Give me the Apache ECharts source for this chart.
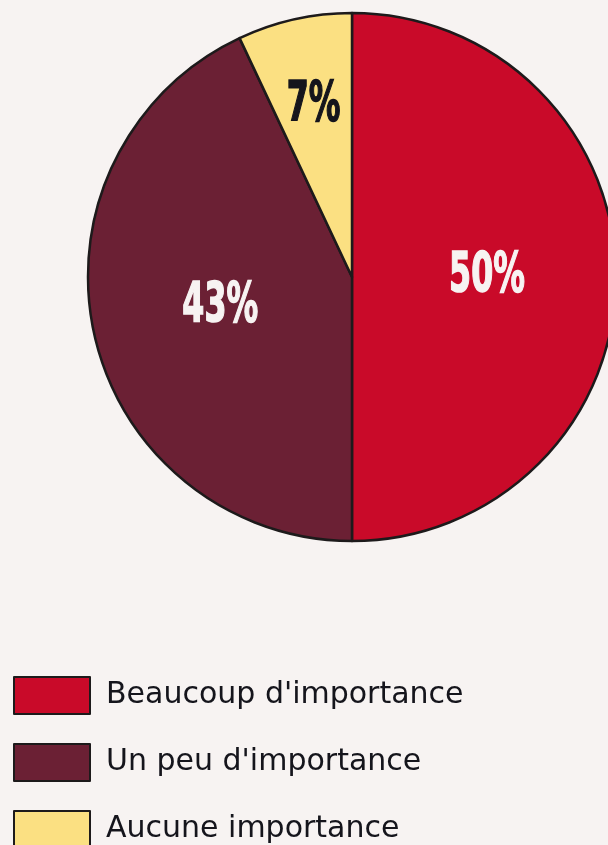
<!DOCTYPE html>
<html>
<head>
<meta charset="utf-8">
<script src="https://cdn.jsdelivr.net/npm/echarts@6/dist/echarts.min.js"></script>
<style>
  html, body { margin: 0; padding: 0; background: #f7f3f2; }
  #chart { width: 608px; height: 845px; }
</style>
</head>
<body>
<div id="chart"></div>
<script>
var categories = ["Beaucoup d'importance", "Un peu d'importance", "Aucune importance"];
var values = [50, 43, 7];
var colors = ["#c90a29", "#6b2034", "#fbe082"];
var labelColors = ["#f7f3f2", "#f7f3f2", "#15151c"];

var chart = echarts.init(document.getElementById('chart'));

var labelFont = {
  fontFamily: '"DejaVu Sans Condensed", "DejaVu Sans", sans-serif',
  fontWeight: 'bold',
  fontSize: 55,
  padding: [6, 0, 0, 0],
  textBorderWidth: 1.5
};

// main slices, labels inside for the two big ones
var mainData = categories.map(function (c, i) {
  return {
    name: c,
    value: values[i],
    itemStyle: { color: colors[i] },
    label: { show: i < 2, color: labelColors[i], textBorderColor: labelColors[i] }
  };
});
// transparent ring, only used to put the small slice label further out
var ringData = categories.map(function (c, i) {
  return {
    name: c,
    value: values[i],
    label: { show: i === 2, color: labelColors[i], textBorderColor: labelColors[i] }
  };
});

var option = {
  backgroundColor: '#f7f3f2',
  animation: false,
  legend: {
    orient: 'vertical',
    left: 13,
    top: 676,
    height: 220,
    padding: 0,
    itemWidth: 76,
    itemHeight: 37,
    itemGap: 28,
    icon: 'rect',
    data: categories,
    textStyle: {
      fontFamily: '"DejaVu Sans", sans-serif',
      fontSize: 30,
      color: '#15151c',
      padding: [0, 0, 0, 11]
    }
  },
  series: [
    {
      type: 'pie',
      center: [352, 277],
      radius: [0, 264],
      startAngle: 90,
      clockwise: true,
      itemStyle: { borderColor: '#1d1a1b', borderWidth: 2.5 },
      label: Object.assign({ position: 'inside', formatter: '{c}%' }, labelFont),
      labelLine: { show: false },
      emphasis: { disabled: true },
      data: mainData
    },
    {
      type: 'pie',
      center: [352, 277],
      radius: [100, 246],
      startAngle: 90,
      clockwise: true,
      silent: true,
      itemStyle: { color: 'rgba(0,0,0,0)', borderWidth: 0 },
      label: Object.assign({ position: 'inside', formatter: '{c}%' }, labelFont),
      labelLine: { show: false },
      emphasis: { disabled: true },
      data: ringData
    }
  ]
};
chart.setOption(option);

// squeeze the percent labels so they look like the narrow display font
function squeezeLabels() {
  [0, 1].forEach(function (s) {
    var data = chart.getModel().getSeriesByIndex(s).getData();
    data.each(function (i) {
      var el = data.getItemGraphicEl(i);
      var txt = el && el.getTextContent && el.getTextContent();
      if (txt) { txt.scaleX = 0.64; txt.dirty(); }
    });
  });
  chart.getZr().refreshImmediately();
}
squeezeLabels();
</script>
</body>
</html>
